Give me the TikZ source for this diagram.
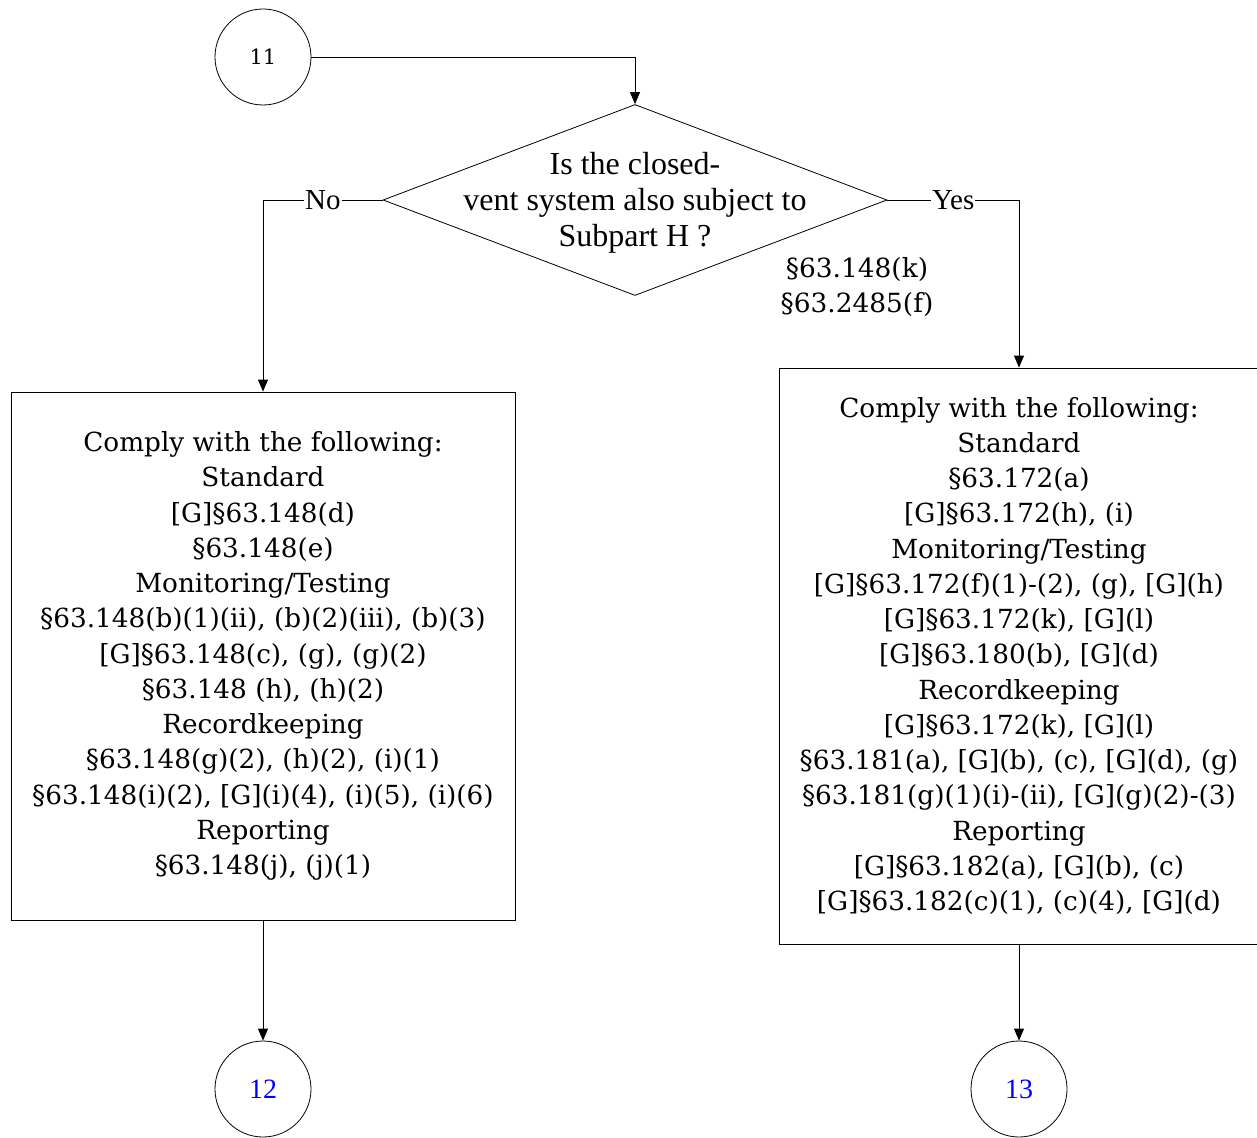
\documentclass[tikz,border=0pt]{standalone}
\usepackage{fontspec}
\setmainfont{DejaVu Serif}
\newfontfamily\timesfont{Liberation Serif}
\usetikzlibrary{shapes.geometric,arrows.meta}
\begin{document}
\begin{tikzpicture}[x=1pt,y=-1pt,>={Triangle[length=12pt,width=10pt]},line width=.8pt,
	hop/.style={draw,rectangle,align=center,inner sep=0pt,font=\fontsize{26.3}{35.25}\selectfont},
	tron/.style={draw,circle,minimum size=96pt,inner sep=0pt},
	nhan/.style={fill=white,inner sep=1pt,font=\timesfont\fontsize{29}{34}\selectfont}]
	\useasboundingbox (0,0) rectangle (1257,1137);
	\def\xt{263} % cot trai
	\def\xp{1019} % cot phai
	\node[tron,font=\fontsize{21}{24}\selectfont] (c11) at (\xt,57) {11};
	% cau hoi
	\node[draw,diamond,minimum width=504pt,minimum height=191pt,inner sep=0pt] (hoi) at (635,200) {};
	\node[align=center,font=\timesfont\fontsize{32}{36}\selectfont] (hoichu) at (635,203) {Is the closed-\\vent system also subject to\\Subpart H ?};
	\node[align=center,font=\fontsize{26.4}{35}\selectfont] (dieu) at (857,287) {§63.148(k)\\§63.2485(f)};
	% hai hop
	\node[hop,minimum width=504pt,minimum height=528pt] (trai) at (\xt,656) {Comply with the following:\\Standard\\{}[G]§63.148(d)\\§63.148(e)\\Monitoring/Testing\\§63.148(b)(1)(ii), (b)(2)(iii), (b)(3)\\{}[G]§63.148(c), (g), (g)(2)\\§63.148 (h), (h)(2)\\Recordkeeping\\§63.148(g)(2), (h)(2), (i)(1)\\§63.148(i)(2), [G](i)(4), (i)(5), (i)(6)\\Reporting\\§63.148(j), (j)(1)};
	\node[hop,minimum width=480pt,minimum height=576pt] (phai) at (\xp,656) {Comply with the following:\\Standard\\§63.172(a)\\{}[G]§63.172(h), (i)\\Monitoring/Testing\\{}[G]§63.172(f)(1)-(2), (g), [G](h)\\{}[G]§63.172(k), [G](l)\\{}[G]§63.180(b), [G](d)\\Recordkeeping\\{}[G]§63.172(k), [G](l)\\§63.181(a), [G](b), (c), [G](d), (g)\\§63.181(g)(1)(i)-(ii), [G](g)(2)-(3)\\Reporting\\{}[G]§63.182(a), [G](b), (c)\\{}[G]§63.182(c)(1), (c)(4), [G](d)};
	\node[tron,text=blue,font=\timesfont\fontsize{28}{30}\selectfont] (c12) at (\xt,1089) {12};
	\node[tron,text=blue,font=\timesfont\fontsize{28}{30}\selectfont] (c13) at (\xp,1089) {13};
	% mui ten
	\draw[->] (c11.east) -| (hoi.north);
	\draw[->] (hoi.west) -| node[nhan,pos=.25]{No} (trai.north);
	\draw[->] (hoi.east) -| node[nhan,pos=.25]{Yes} (phai.north);
	\draw[->] (trai.south) -- (c12.north);
	\draw[->] (phai.south) -- (c13.north);
\end{tikzpicture}
\end{document}
